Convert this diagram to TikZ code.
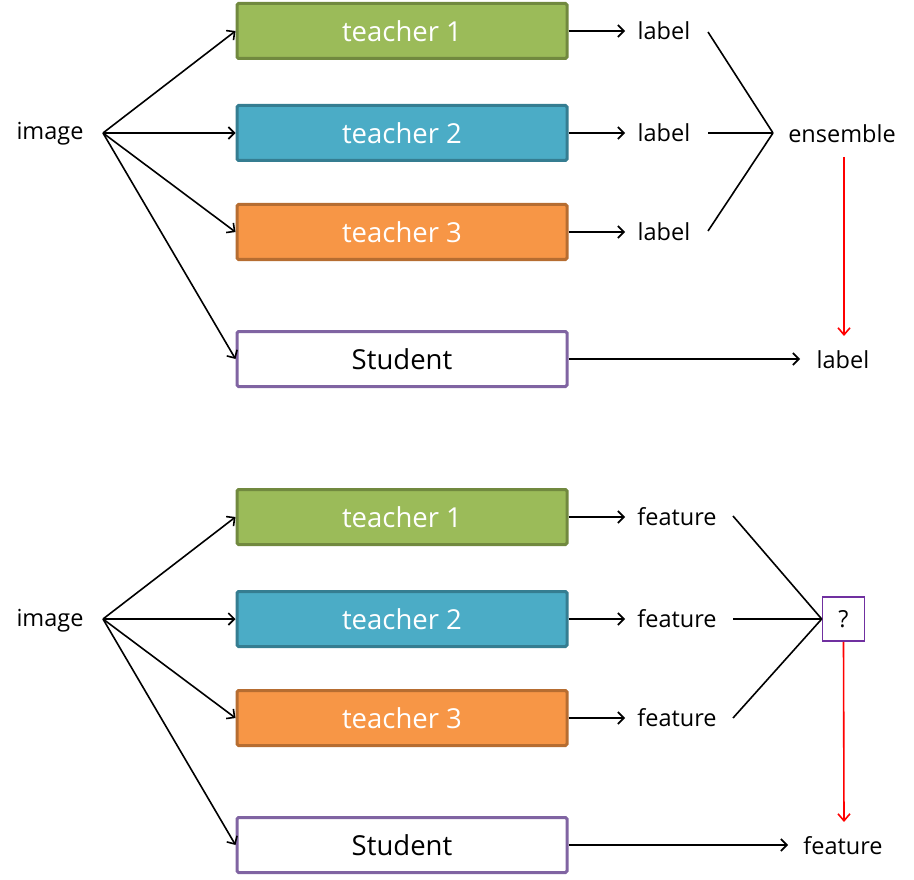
\documentclass[tikz,border=0pt]{standalone}
\usepackage{fontspec}
\setmainfont{Open Sans}
\usetikzlibrary{arrows.meta}
\definecolor{gfill}{HTML}{9BBB59}\definecolor{gdraw}{HTML}{71893F}
\definecolor{bfill}{HTML}{4BACC6}\definecolor{bdraw}{HTML}{357D91}
\definecolor{ofill}{HTML}{F79646}\definecolor{odraw}{HTML}{B66D31}
\definecolor{sdraw}{HTML}{8064A2}\definecolor{qdraw}{HTML}{7030A0}
\tikzset{
  box/.style={draw, line width=3pt, rounded corners=1.5pt, minimum width=330pt, minimum height=55pt, inner sep=0pt, font=\fontsize{27.5}{27.5}\selectfont},
  tbox/.style={box, text=white},
  txt/.style={inner sep=0pt, font=\fontsize{23.5}{23.5}\selectfont},
  arr/.style={line width=1.6pt, -{Straight Barb[length=6pt,width=12pt,line width=1.6pt]}},
  ln/.style={line width=1.6pt},
  rarr/.style={line width=1.6pt, red, -{Straight Barb[length=7pt,width=12pt,line width=1.6pt]}}
}
\begin{document}
\begin{tikzpicture}[x=1pt,y=-1pt]
\useasboundingbox (0,0) rectangle (914,880);
% ---------- top ----------
\node[txt] (img1) at (50,134) {image};
\coordinate (s1) at (103,133);
\node[tbox, fill=gfill, draw=gdraw] (t11) at (402,31) {teacher 1};
\node[tbox, fill=bfill, draw=bdraw] (t12) at (402,133) {teacher 2};
\node[tbox, fill=ofill, draw=odraw] (t13) at (402,232) {teacher 3};
\node[box, fill=white, draw=sdraw] (st1) at (402,359) {Student};
\foreach \b in {t11,t12,t13,st1} \draw[arr] (s1) -- (\b.west);
\node[txt] (l11) at (664,31) {label};
\node[txt] (l12) at (664,133) {label};
\node[txt] (l13) at (664,232) {label};
\coordinate (e11) at (625,31);
\coordinate (e12) at (625,133);
\coordinate (e13) at (625,232);
\foreach \b/\e in {t11/e11,t12/e12,t13/e13} \draw[arr] (\b.east) -- (\e);
\node[txt] (ens) at (842,134) {ensemble};
\coordinate (j1) at (773,133);
\coordinate (a11) at (708,32);
\coordinate (a12) at (708,133);
\coordinate (a13) at (708,231);
\foreach \a in {a11,a12,a13} \draw[ln] (\a) -- (j1);
\node[txt] (sl1) at (843,360) {label};
\coordinate (se1) at (800,359);
\draw[arr] (st1.east) -- (se1);
\coordinate (r1a) at (844,157);
\coordinate (r1b) at (844,336);
\draw[rarr] (r1a) -- (r1b);
% ---------- bottom ----------
\node[txt] (img2) at (50,621) {image};
\coordinate (s2) at (103,619);
\node[tbox, fill=gfill, draw=gdraw] (t21) at (402,517) {teacher 1};
\node[tbox, fill=bfill, draw=bdraw] (t22) at (402,619) {teacher 2};
\node[tbox, fill=ofill, draw=odraw] (t23) at (402,718) {teacher 3};
\node[box, fill=white, draw=sdraw] (st2) at (402,845) {Student};
\foreach \b in {t21,t22,t23,st2} \draw[arr] (s2) -- (\b.west);
\node[txt] (f21) at (677,517) {feature};
\node[txt] (f22) at (677,619) {feature};
\node[txt] (f23) at (677,718) {feature};
\coordinate (e21) at (625,517);
\coordinate (e22) at (625,619);
\coordinate (e23) at (625,718);
\foreach \b/\e in {t21/e21,t22/e22,t23/e23} \draw[arr] (\b.east) -- (\e);
\node[draw=qdraw, line width=1.6pt, minimum width=42pt, minimum height=44pt, inner sep=0pt, font=\fontsize{23.5}{23.5}\selectfont] (q) at (843.5,619) {?};
\coordinate (a21) at (733,516);
\coordinate (a22) at (733,619);
\coordinate (a23) at (733,718);
\foreach \a in {a21,a22,a23} \draw[ln] (\a) -- (q.west);
\node[txt] (sf2) at (843,846) {feature};
\coordinate (se2) at (788,845);
\draw[arr] (st2.east) -- (se2);
\coordinate (r2b) at (844,822);
\draw[rarr] (q.south) -- (r2b);
\end{tikzpicture}
\end{document}
